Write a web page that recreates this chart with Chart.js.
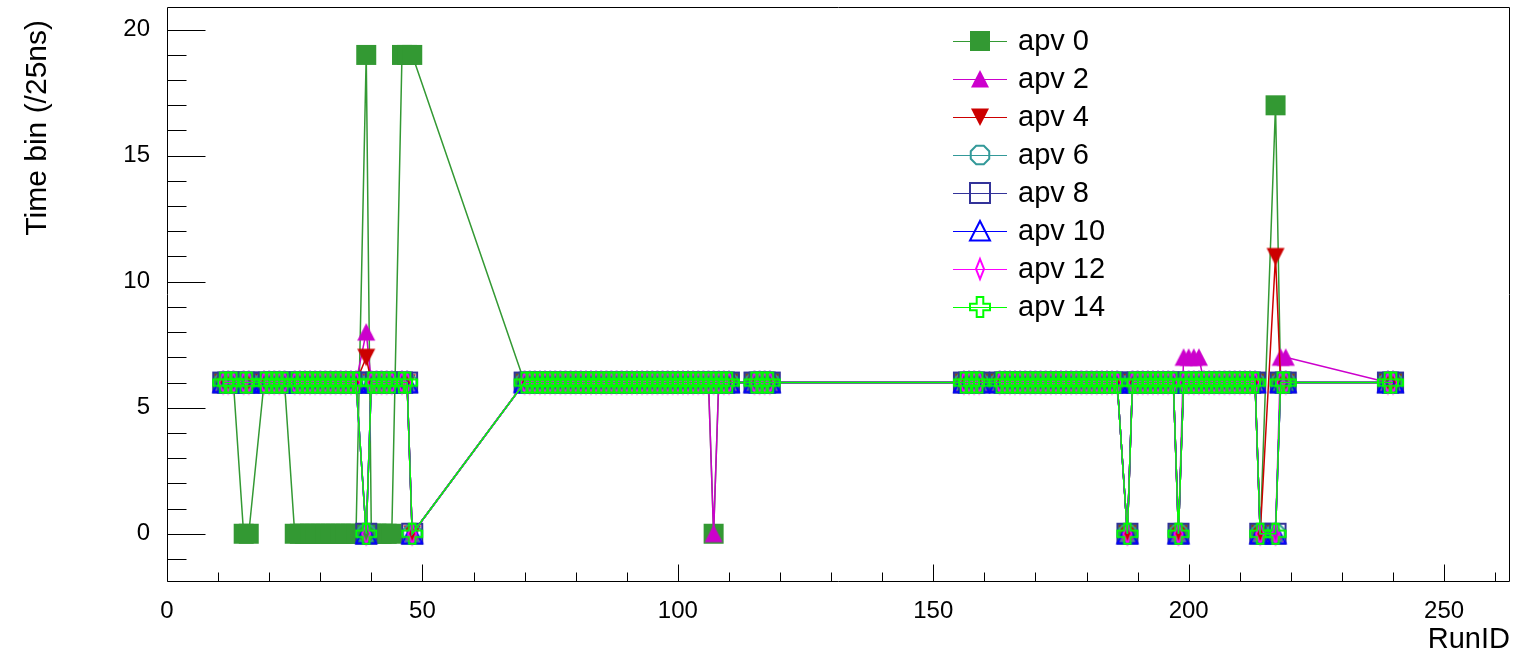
<!DOCTYPE html>
<html><head><meta charset="utf-8">
<script src="https://cdn.jsdelivr.net/npm/chart.js@4.4.1/dist/chart.umd.min.js"></script>
<style>html,body{margin:0;padding:0;background:#fff;}#wrap{width:1515px;height:657px;}</style>
</head><body><div id="wrap"><canvas id="c" width="1515" height="657"></canvas></div>
<script>
// Run IDs (x values)
const runIDs = [
 11,12,13,15,16,19,20,21,22,23,25,26,27,28,29,30,31,32,33,34,35,36,37,39,40,41,42,43,44,46,47,48,
 70,71,72,73,74,75,76,77,78,79,80,81,82,83,84,85,86,87,88,89,90,91,92,93,94,95,96,97,98,99,100,101,102,103,104,105,106,107,108,109,110,115,116,117,118,
 156,157,158,159,163,164,165,166,167,168,169,170,171,172,173,174,175,176,177,178,179,180,181,182,183,184,185,186,188,189,190,191,192,193,194,195,196,197,198,199,200,201,202,203,204,205,206,207,208,209,210,211,212,213,214,217,218,219,239,240
];
const apv0 = [
 6,6,6,0,0,6,6,6,6,6, 0,0,0,0,0,0,0,0,0,0, 0,0,0,19,0,0,0,0,0,19, 19,19,
 6,6,6,6,6,6,6,6,6,6, 6,6,6,6,6,6,6,6,6,6, 6,6,6,6,6,6,6,6,6,6, 6,6,6,6,6,6,6,0,6,6, 6,6,6,6,6,
 6,6,6,6,6,6,6,6,6,6, 6,6,6,6,6,6,6,6,6,6, 6,6,6,6,6,6,6,6,0,6, 6,6,6,6,6,6,6,6,0,6, 6,6,6,6,6,6,6,6,6,6, 6,6,6,6,0,17,6,6,6,6
];
const apv2 = [
 6,6,6,6,6,6,6,6,6,6, 6,6,6,6,6,6,6,6,6,6, 6,6,6,8,6,6,6,6,6,6, 6,0,
 6,6,6,6,6,6,6,6,6,6, 6,6,6,6,6,6,6,6,6,6, 6,6,6,6,6,6,6,6,6,6, 6,6,6,6,6,6,6,0,6,6, 6,6,6,6,6,
 6,6,6,6,6,6,6,6,6,6, 6,6,6,6,6,6,6,6,6,6, 6,6,6,6,6,6,6,6,0,6, 6,6,6,6,6,6,6,6,0,7, 7,7,7,6,6,6,6,6,6,6, 6,6,6,6,0,0,7,7,6,6
];
const apv4 = [
 6,6,6,6,6,6,6,6,6,6, 6,6,6,6,6,6,6,6,6,6, 6,6,6,7,6,6,6,6,6,6, 6,0,
 6,6,6,6,6,6,6,6,6,6, 6,6,6,6,6,6,6,6,6,6, 6,6,6,6,6,6,6,6,6,6, 6,6,6,6,6,6,6,6,6,6, 6,6,6,6,6,
 6,6,6,6,6,6,6,6,6,6, 6,6,6,6,6,6,6,6,6,6, 6,6,6,6,6,6,6,6,0,6, 6,6,6,6,6,6,6,6,0,6, 6,6,6,6,6,6,6,6,6,6, 6,6,6,6,0,11,6,6,6,6
];
const apv6 = [
 6,6,6,6,6,6,6,6,6,6, 6,6,6,6,6,6,6,6,6,6, 6,6,6,0,6,6,6,6,6,6, 6,0,
 6,6,6,6,6,6,6,6,6,6, 6,6,6,6,6,6,6,6,6,6, 6,6,6,6,6,6,6,6,6,6, 6,6,6,6,6,6,6,6,6,6, 6,6,6,6,6,
 6,6,6,6,6,6,6,6,6,6, 6,6,6,6,6,6,6,6,6,6, 6,6,6,6,6,6,6,6,0,6, 6,6,6,6,6,6,6,6,0,6, 6,6,6,6,6,6,6,6,6,6, 6,6,6,6,0,0,6,6,6,6
];
const apv8 = [
 6,6,6,6,6,6,6,6,6,6, 6,6,6,6,6,6,6,6,6,6, 6,6,6,0,6,6,6,6,6,6, 6,0,
 6,6,6,6,6,6,6,6,6,6, 6,6,6,6,6,6,6,6,6,6, 6,6,6,6,6,6,6,6,6,6, 6,6,6,6,6,6,6,6,6,6, 6,6,6,6,6,
 6,6,6,6,6,6,6,6,6,6, 6,6,6,6,6,6,6,6,6,6, 6,6,6,6,6,6,6,6,0,6, 6,6,6,6,6,6,6,6,0,6, 6,6,6,6,6,6,6,6,6,6, 6,6,6,6,0,0,6,6,6,6
];
const apv10 = [
 6,6,6,6,6,6,6,6,6,6, 6,6,6,6,6,6,6,6,6,6, 6,6,6,0,6,6,6,6,6,6, 6,0,
 6,6,6,6,6,6,6,6,6,6, 6,6,6,6,6,6,6,6,6,6, 6,6,6,6,6,6,6,6,6,6, 6,6,6,6,6,6,6,6,6,6, 6,6,6,6,6,
 6,6,6,6,6,6,6,6,6,6, 6,6,6,6,6,6,6,6,6,6, 6,6,6,6,6,6,6,6,0,6, 6,6,6,6,6,6,6,6,0,6, 6,6,6,6,6,6,6,6,6,6, 6,6,6,6,0,0,6,6,6,6
];
const apv12 = [
 6,6,6,6,6,6,6,6,6,6, 6,6,6,6,6,6,6,6,6,6, 6,6,6,0,6,6,6,6,6,6, 6,0,
 6,6,6,6,6,6,6,6,6,6, 6,6,6,6,6,6,6,6,6,6, 6,6,6,6,6,6,6,6,6,6, 6,6,6,6,6,6,6,6,6,6, 6,6,6,6,6,
 6,6,6,6,6,6,6,6,6,6, 6,6,6,6,6,6,6,6,6,6, 6,6,6,6,6,6,6,6,0,6, 6,6,6,6,6,6,6,6,0,6, 6,6,6,6,6,6,6,6,6,6, 6,6,6,6,0,0,6,6,6,6
];
const apv14 = [
 6,6,6,6,6,6,6,6,6,6, 6,6,6,6,6,6,6,6,6,6, 6,6,6,0,6,6,6,6,6,6, 6,0,
 6,6,6,6,6,6,6,6,6,6, 6,6,6,6,6,6,6,6,6,6, 6,6,6,6,6,6,6,6,6,6, 6,6,6,6,6,6,6,6,6,6, 6,6,6,6,6,
 6,6,6,6,6,6,6,6,6,6, 6,6,6,6,6,6,6,6,6,6, 6,6,6,6,6,6,6,6,0,6, 6,6,6,6,6,6,6,6,0,6, 6,6,6,6,6,6,6,6,6,6, 6,6,6,6,0,0,6,6,6,6
];
const seriesNames = ['apv 0','apv 2','apv 4','apv 6','apv 8','apv 10','apv 12','apv 14'];
const seriesValues = [apv0, apv2, apv4, apv6, apv8, apv10, apv12, apv14];
const seriesColors = ['#339933','#cc00cc','#cc0000','#339999','#333399','#0000ff','#ff00ff','#00ff00'];
const seriesMarkers = ['fsquare','ftriup','ftridown','ooct','osquare','otri','odiamond','ocross'];
const xTickValues = [0,50,100,150,200,250];
const xMinorTicks = [10,20,30,40,60,70,80,90,110,120,130,140,160,170,180,190,210,220,230,240,260];
const yTickValues = [0,5,10,15,20];
const yMinorTicks = [-1,1,2,3,4,6,7,8,9,11,12,13,14,16,17,18,19];
const xTitle = 'RunID';
const yTitle = 'Time bin (/25ns)';

function makeMarker(kind, color){
  const c = document.createElement('canvas'); c.width = 26; c.height = 26;
  const g = c.getContext('2d'); const m = 13;
  g.fillStyle = color; g.strokeStyle = color; g.lineWidth = 2;
  g.beginPath();
  if (kind === 'fsquare') { g.rect(m-10, m-10, 20, 20); g.fill(); }
  else if (kind === 'ftriup') { g.moveTo(m, m-9); g.lineTo(m+9, m+8.5); g.lineTo(m-9, m+8.5); g.closePath(); g.fill(); }
  else if (kind === 'ftridown') { g.moveTo(m, m+9); g.lineTo(m+9, m-8.5); g.lineTo(m-9, m-8.5); g.closePath(); g.fill(); }
  else if (kind === 'ooct') { for (let k=0;k<8;k++){ const a = Math.PI/8 + k*Math.PI/4; const px = m+10*Math.cos(a), py = m+10*Math.sin(a); k?g.lineTo(px,py):g.moveTo(px,py);} g.closePath(); g.stroke(); }
  else if (kind === 'osquare') { g.rect(m-10, m-10, 20, 20); g.stroke(); }
  else if (kind === 'otri') { g.moveTo(m, m-10); g.lineTo(m+10, m+9.5); g.lineTo(m-10, m+9.5); g.closePath(); g.stroke(); }
  else if (kind === 'odiamond') { g.moveTo(m, m-10); g.lineTo(m+4, m); g.lineTo(m, m+10); g.lineTo(m-4, m); g.closePath(); g.stroke(); }
  else if (kind === 'ocross') { const a=10, b=3.3; const pts=[[-b,-a],[b,-a],[b,-b],[a,-b],[a,b],[b,b],[b,a],[-b,a],[-b,b],[-a,b],[-a,-b],[-b,-b]]; pts.forEach((p,k)=>{k?g.lineTo(m+p[0],m+p[1]):g.moveTo(m+p[0],m+p[1]);}); g.closePath(); g.stroke(); }
  return c;
}

const markerImgs = seriesMarkers.map((k,i)=>makeMarker(k, seriesColors[i]));
const datasets = seriesNames.map((name, i) => ({
  label: name,
  data: runIDs.map((x, j) => ({x: x, y: seriesValues[i][j]})),
  borderColor: seriesColors[i],
  backgroundColor: seriesColors[i],
  borderWidth: 1.5,
  pointStyle: markerImgs[i],
  pointRadius: 1,
  pointBorderWidth: 0,
  pointHoverRadius: 1,
  tension: 0,
  fill: false,
  clip: false,
  order: seriesNames.length - 1 - i
}));

const FONT = '"Liberation Sans", Arial, Helvetica, sans-serif';

const framePlugin = {
  id: 'frame',
  beforeDatasetsDraw(chart){
    const {ctx, chartArea: a, scales: {x, y}} = chart;
    ctx.save();
    ctx.strokeStyle = '#000'; ctx.lineWidth = 1;
    ctx.beginPath();
    const L = Math.round(a.left)+0.5, R = Math.round(a.right)-0.5, T = Math.round(a.top)+0.5, B = Math.round(a.bottom)-0.5;
    ctx.rect(L, T, R-L, B-T);
    xTickValues.forEach(v => { const px = Math.round(x.getPixelForValue(v))+0.5; ctx.moveTo(px, B); ctx.lineTo(px, B-17); });
    xMinorTicks.forEach(v => { const px = Math.round(x.getPixelForValue(v))+0.5; ctx.moveTo(px, B); ctx.lineTo(px, B-9); });
    yTickValues.forEach(v => { const py = Math.round(y.getPixelForValue(v))+0.5; ctx.moveTo(L, py); ctx.lineTo(L+38, py); });
    yMinorTicks.forEach(v => { const py = Math.round(y.getPixelForValue(v))+0.5; ctx.moveTo(L, py); ctx.lineTo(L+19, py); });
    ctx.stroke();
    // y axis title (ROOT style: right-aligned a little below the frame top)
    ctx.save();
    ctx.translate(38, a.top + 13);
    ctx.rotate(-Math.PI/2);
    ctx.fillStyle = '#000'; ctx.font = '30px ' + FONT; ctx.textAlign = 'right'; ctx.textBaseline = 'middle';
    ctx.fillText(yTitle, 0, 0);
    ctx.restore();
    ctx.restore();
  }
};

const legendPlugin = {
  id: 'rootLegend',
  afterDatasetsDraw(chart){
    const ctx = chart.ctx;
    ctx.save();
    chart.data.datasets.forEach((ds, i) => {
      const yy = 41 + i*38;
      ctx.strokeStyle = ds.borderColor; ctx.lineWidth = 1;
      ctx.beginPath(); ctx.moveTo(953, yy+0.5); ctx.lineTo(1007, yy+0.5); ctx.stroke();
      ctx.drawImage(ds.pointStyle, 980-13, yy-13);
      ctx.fillStyle = '#000'; ctx.font = '29px ' + FONT; ctx.textBaseline = 'middle'; ctx.textAlign = 'left';
      ctx.fillText(ds.label, 1018, yy+1);
    });
    ctx.restore();
  }
};

function zeroPad(s){ s.paddingTop = 0; s.paddingBottom = 0; s.paddingLeft = 0; s.paddingRight = 0; }

new Chart(document.getElementById('c'), {
  type: 'line',
  data: { datasets },
  options: {
    responsive: false, animation: false, devicePixelRatio: 1,
    layout: { padding: { left: 0, right: 5, top: 7, bottom: 0 } },
    plugins: { legend: { display: false }, tooltip: { enabled: false } },
    scales: {
      x: {
        type: 'linear', min: 0, max: 262.9,
        grid: { display: false, drawTicks: false }, border: { display: false },
        afterBuildTicks: s => { s.ticks = xTickValues.map(v => ({value: v})); },
        afterFit: s => { s.height = 75; zeroPad(s); },
        ticks: { color: '#000', font: { family: FONT, size: 24 }, padding: 15, maxRotation: 0, autoSkip: false },
        title: { display: true, text: xTitle, align: 'end', color: '#000', font: { family: FONT, size: 29 }, padding: { top: 0, bottom: 0 } }
      },
      y: {
        type: 'linear', min: -1.916, max: 20.9,
        grid: { display: false, drawTicks: false }, border: { display: false },
        afterBuildTicks: s => { s.ticks = yTickValues.map(v => ({value: v})); },
        afterFit: s => { s.width = 167; zeroPad(s); },
        ticks: { color: '#000', font: { family: FONT, size: 24 }, padding: 17 },
        title: { display: false }
      }
    }
  },
  plugins: [framePlugin, legendPlugin]
});
</script></body></html>
